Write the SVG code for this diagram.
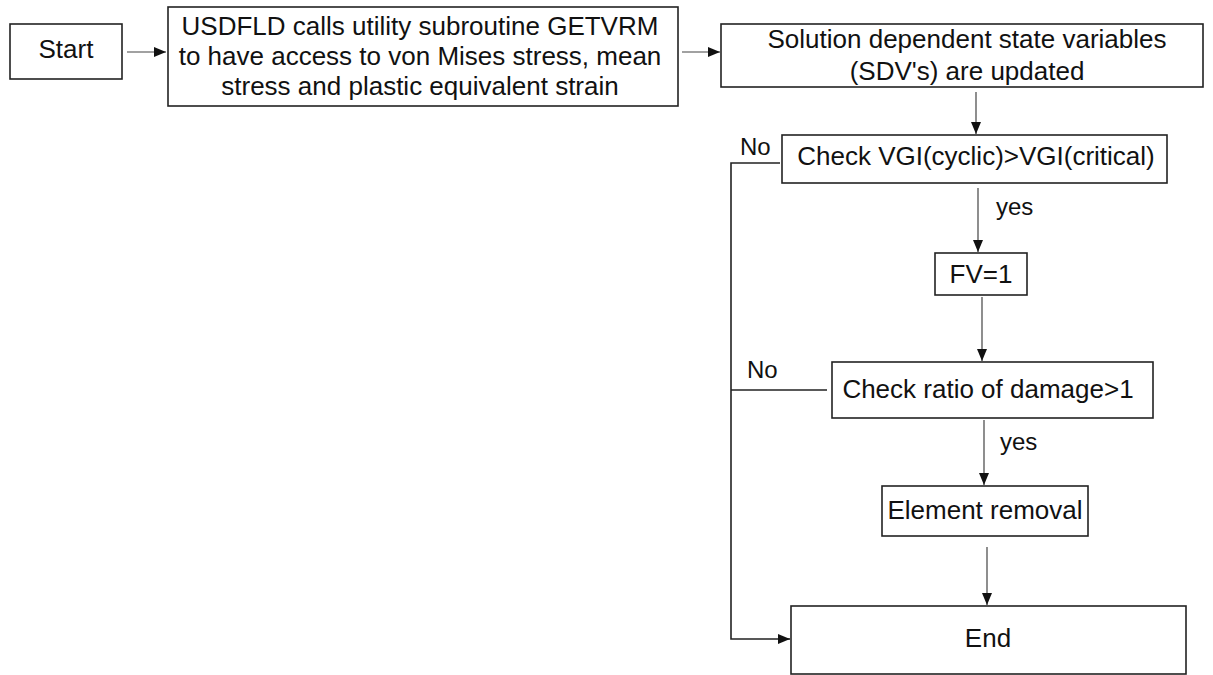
<svg xmlns="http://www.w3.org/2000/svg" width="1213" height="675" viewBox="0 0 1213 675">
<style>
.box{fill:#fff;stroke:#222;stroke-width:1.6}
.t{font-family:"Liberation Sans",Arial,sans-serif;font-size:26px;fill:#111;text-anchor:middle}
.l{font-family:"Liberation Sans",Arial,sans-serif;font-size:24px;fill:#111}
.c{fill:none;stroke:#444;stroke-width:1.2}
.cd{fill:none;stroke:#222;stroke-width:1.6}
</style>
<defs>
<marker id="ah" viewBox="0 0 12 10" refX="12" refY="5" markerWidth="12" markerHeight="10" markerUnits="userSpaceOnUse" orient="auto">
<path d="M0,0 L12,5 L0,10 Z" fill="#111"/>
</marker>
</defs>
<rect width="1213" height="675" fill="#fff"/>
<g id="connectors">
<line class="c" x1="127" y1="52" x2="166" y2="52" marker-end="url(#ah)"/>
<line class="c" x1="682" y1="52" x2="720" y2="52" marker-end="url(#ah)"/>
<line class="c" x1="976" y1="92" x2="976" y2="134" marker-end="url(#ah)"/>
<line class="c" x1="978" y1="188" x2="978" y2="252" marker-end="url(#ah)"/>
<line class="c" x1="982" y1="297" x2="982" y2="361" marker-end="url(#ah)"/>
<line class="c" x1="984" y1="420" x2="984" y2="485" marker-end="url(#ah)"/>
<line class="c" x1="987" y1="547" x2="987" y2="605" marker-end="url(#ah)"/>
<path class="cd" d="M780,163 H731 V639 H790" marker-end="url(#ah)"/>
<path class="cd" d="M827,390 H731"/>
<text class="l" x="740" y="155">No</text>
<text class="l" x="747" y="378">No</text>
<text class="l" x="996" y="215">yes</text>
<text class="l" x="1000" y="450">yes</text>
</g>
<g id="start">
<rect class="box" x="10" y="24" width="112" height="55"/>
<text class="t" x="66" y="58">Start</text>
</g>
<g id="usdfld">
<rect class="box" x="168" y="7" width="510" height="99"/>
<text class="t" x="420" y="35">USDFLD calls utility subroutine GETVRM</text>
<text class="t" x="420" y="65">to have access to von Mises stress, mean</text>
<text class="t" x="420" y="95">stress and plastic equivalent strain</text>
</g>
<g id="sdv">
<rect class="box" x="721" y="24" width="482" height="63"/>
<text class="t" x="967" y="48">Solution dependent state variables</text>
<text class="t" x="967" y="80">(SDV's) are updated</text>
</g>
<g id="checkvgi">
<rect class="box" x="782" y="135" width="385" height="48"/>
<text class="t" x="976" y="165">Check VGI(cyclic)&gt;VGI(critical)</text>
</g>
<g id="fv">
<rect class="box" x="935" y="253" width="92" height="42"/>
<text class="t" x="981" y="283">FV=1</text>
</g>
<g id="checkratio">
<rect class="box" x="832" y="362" width="321" height="56"/>
<text class="t" x="988" y="398">Check ratio of damage&gt;1</text>
</g>
<g id="removal">
<rect class="box" x="882" y="486" width="206" height="50"/>
<text class="t" x="985" y="519">Element removal</text>
</g>
<g id="end">
<rect class="box" x="791" y="606" width="395" height="68"/>
<text class="t" x="988" y="647">End</text>
</g>
</svg>
